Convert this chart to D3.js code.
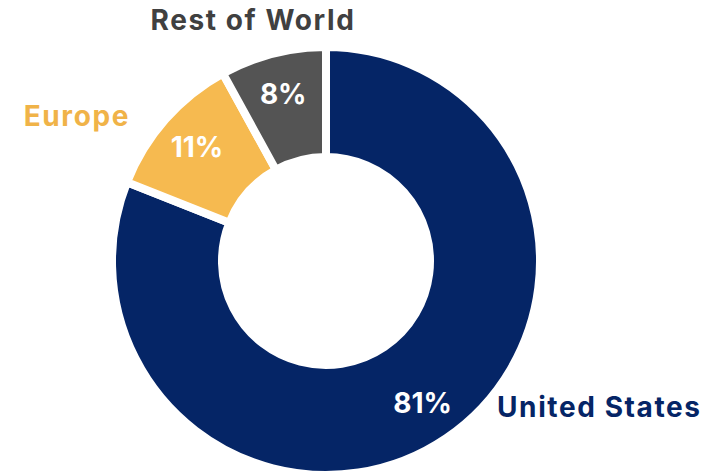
<!DOCTYPE html>
<html>
<head>
<meta charset="utf-8">
<script src="https://cdn.jsdelivr.net/npm/d3@7"></script>
<style>
  html, body { margin: 0; padding: 0; background: #ffffff; }
  svg { display: block; }
  text { font-family: Inter, "Noto Sans", sans-serif; font-weight: 700; }
</style>
</head>
<body>
<svg id="chart" width="715" height="473"></svg>
<script>
const categories = ["United States", "Europe", "Rest of World"];
const shares = [81, 11, 8];
const pctLabels = ["81%", "11%", "8%"];
const colors = ["#052566", "#F6BA50", "#545454"];
const nameColors = ["#052566", "#F0B348", "#404040"];

const W = 715, H = 473;
const cx = 326, cy = 261;
const outerR = 214, innerR = 104, gap = 8;
const labelR = 172;

// outer name label placement (layout)
const nameLayout = [
  { x: 497, y: 417, anchor: "start" },
  { x: 130, y: 126, anchor: "end" },
  { x: 253, y: 30, anchor: "middle" }
];

const svg = d3.select("#chart");
const g = svg.append("g").attr("transform", `translate(${cx},${cy})`);

const data = categories.map((c, i) => ({ name: c, value: shares[i], i }));
const pie = d3.pie().value(d => d.value).sort(null);
const arcs = pie(data);

const arc = d3.arc().innerRadius(innerR).outerRadius(outerR);
const labelArc = d3.arc().innerRadius(labelR).outerRadius(labelR);

g.selectAll("path.slice")
  .data(arcs)
  .join("path")
  .attr("class", "slice")
  .attr("d", arc)
  .attr("fill", d => colors[d.data.i])
  .attr("stroke", "#ffffff")
  .attr("stroke-width", gap)
  .attr("stroke-linejoin", "miter");

g.selectAll("text.pct")
  .data(arcs)
  .join("text")
  .attr("class", "pct")
  .attr("transform", d => `translate(${labelArc.centroid(d)})`)
  .attr("text-anchor", "middle")
  .attr("dominant-baseline", "central")
  .attr("fill", "#ffffff")
  .attr("font-size", 28)
  .text(d => pctLabels[d.data.i]);

svg.selectAll("text.name")
  .data(data)
  .join("text")
  .attr("class", "name")
  .attr("x", d => nameLayout[d.i].x)
  .attr("y", d => nameLayout[d.i].y)
  .attr("text-anchor", d => nameLayout[d.i].anchor)
  .attr("fill", d => nameColors[d.i])
  .attr("font-size", 28)
  .attr("letter-spacing", 1.6)
  .text(d => d.name);
</script>
</body>
</html>
